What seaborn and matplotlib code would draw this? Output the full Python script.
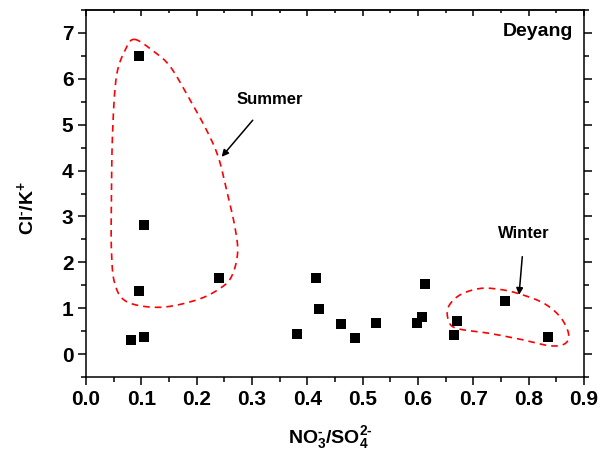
import numpy as np
import pandas as pd
import matplotlib
matplotlib.use("Agg")
import matplotlib.pyplot as plt
import seaborn as sns
from matplotlib.ticker import MultipleLocator

# NO3-/SO4 2- ratio and Cl-/K+ ratio for each Deyang sample
no3_so4 = [0.096, 0.105, 0.096, 0.081, 0.105, 0.240, 0.381, 0.416, 0.421,
           0.461, 0.487, 0.525, 0.599, 0.608, 0.612, 0.665, 0.671, 0.757, 0.835]
cl_k = [6.50, 2.81, 1.38, 0.31, 0.38, 1.66, 0.44, 1.66, 0.98,
        0.65, 0.36, 0.68, 0.68, 0.81, 1.52, 0.42, 0.72, 1.16, 0.38]

# Outlines drawn around the seasonal groups (data units)
summer_x = [0.087, 0.119, 0.152, 0.188, 0.218, 0.239, 0.254, 0.269, 0.274, 0.263,
            0.242, 0.200, 0.134, 0.074, 0.052, 0.046, 0.046, 0.048, 0.055, 0.071]
summer_y = [6.86, 6.63, 6.27, 5.54, 4.88, 4.30, 3.58, 2.78, 2.20, 1.69,
            1.43, 1.18, 1.02, 1.14, 1.54, 2.27, 3.36, 4.81, 6.05, 6.63]
winter_x = [0.655, 0.676, 0.712, 0.748, 0.784, 0.827, 0.857, 0.872, 0.866,
            0.839, 0.790, 0.730, 0.670, 0.655]
winter_y = [1.03, 1.29, 1.43, 1.41, 1.31, 1.11, 0.81, 0.45, 0.23,
            0.18, 0.31, 0.45, 0.56, 0.74]

x_ticks = [0.0, 0.1, 0.2, 0.3, 0.4, 0.5, 0.6, 0.7, 0.8, 0.9]
y_ticks = [0, 1, 2, 3, 4, 5, 6, 7]


def closed_spline(xs, ys, n=40):
    """Closed Catmull-Rom curve through the given points."""
    p = np.column_stack([xs, ys])
    m = len(p)
    out = []
    t = np.linspace(0, 1, n, endpoint=False)[:, None]
    for i in range(m):
        p0, p1, p2, p3 = p[i - 1], p[i], p[(i + 1) % m], p[(i + 2) % m]
        seg = 0.5 * ((2 * p1) + (-p0 + p2) * t + (2 * p0 - 5 * p1 + 4 * p2 - p3) * t ** 2
                     + (-p0 + 3 * p1 - 3 * p2 + p3) * t ** 3)
        out.append(seg)
    out = np.vstack(out + [p[:1]])
    return out[:, 0], out[:, 1]


sns.set_style("ticks")
plt.rcParams["font.family"] = ["Liberation Sans", "DejaVu Sans"]
plt.rcParams["font.weight"] = "bold"
plt.rcParams["text.color"] = "black"
plt.rcParams["axes.labelcolor"] = "black"
plt.rcParams["xtick.color"] = "black"
plt.rcParams["ytick.color"] = "black"
plt.rcParams["mathtext.fontset"] = "custom"
plt.rcParams["mathtext.rm"] = "Liberation Sans:bold"
plt.rcParams["mathtext.bf"] = "Liberation Sans:bold"
plt.rcParams["mathtext.it"] = "Liberation Sans:bold"

df = pd.DataFrame({"ratio_n_s": no3_so4, "ratio_cl_k": cl_k})

fig = plt.figure(figsize=(6.05, 4.59), dpi=100)
ax = fig.add_axes([0.1421, 0.1786, 0.8232, 0.7996])

sns.scatterplot(data=df, x="ratio_n_s", y="ratio_cl_k", ax=ax, marker="s",
                color="black", s=42, edgecolor="black", linewidth=0, zorder=3)

for xs, ys in [(summer_x, summer_y), (winter_x, winter_y)]:
    cx, cy = closed_spline(xs, ys)
    ax.plot(cx, cy, color="#ff0000", lw=1.2, ls=(0, (4, 3)), zorder=2)

ax.annotate("Summer", xy=(0.2452, 4.30), xytext=(0.3325, 5.54),
            ha="center", va="center", fontsize=12, fontweight="bold",
            arrowprops=dict(arrowstyle="-|>", color="black", lw=1.1,
                            shrinkA=9, shrinkB=0, mutation_scale=10))
ax.annotate("Winter", xy=(0.7826, 1.29), xytext=(0.792, 2.63),
            ha="center", va="center", fontsize=12, fontweight="bold",
            arrowprops=dict(arrowstyle="-|>", color="black", lw=1.1,
                            shrinkA=9, shrinkB=0, mutation_scale=10))
ax.text(0.8807, 7.03, "Deyang", ha="right", va="center",
        fontsize=14, fontweight="bold")

ax.set_xlim(0.0, 0.9)
ax.set_ylim(-0.5, 7.5)
ax.set_xticks(x_ticks)
ax.set_xticklabels([f"{v:.1f}" for v in x_ticks])
ax.set_yticks(y_ticks)
ax.set_yticklabels([str(v) for v in y_ticks])
ax.xaxis.set_minor_locator(MultipleLocator(0.05))
ax.yaxis.set_minor_locator(MultipleLocator(0.5))

for s in ax.spines.values():
    s.set_visible(True)
    s.set_linewidth(1.1)
    s.set_color("black")

ax.tick_params(axis="both", which="major", labelsize=15, width=1.1, length=6,
               color="black", labelcolor="black", pad=3)
ax.tick_params(axis="both", which="minor", width=1.1, length=3.5, color="black")
ax.tick_params(axis="x", which="both", bottom=True, top=False, direction="out")
ax.tick_params(axis="y", which="both", left=True, right=True, direction="out")
for lab in ax.get_xticklabels() + ax.get_yticklabels():
    lab.set_fontweight("bold")

# Top frame carries short inward ticks without labels
top = ax.secondary_xaxis("top")
top.set_xticks(x_ticks)
top.xaxis.set_minor_locator(MultipleLocator(0.05))
top.tick_params(axis="x", which="both", direction="in", labeltop=False,
                width=1.1, color="black")
top.tick_params(axis="x", which="major", length=4)
top.tick_params(axis="x", which="minor", length=2.5)
top.spines["top"].set_linewidth(1.1)

ax.set_xlabel(r"$\mathrm{NO_3^{\text{-}}/SO_4^{\text{2-}}}$", fontsize=14)
ax.set_ylabel(r"$\mathrm{Cl^{\text{-}}/K^{+}}$", fontsize=14)
ax.xaxis.set_label_coords(0.49, -0.128)
ax.yaxis.set_label_coords(-0.098, 0.46)

fig.savefig("out.png", dpi=100)
